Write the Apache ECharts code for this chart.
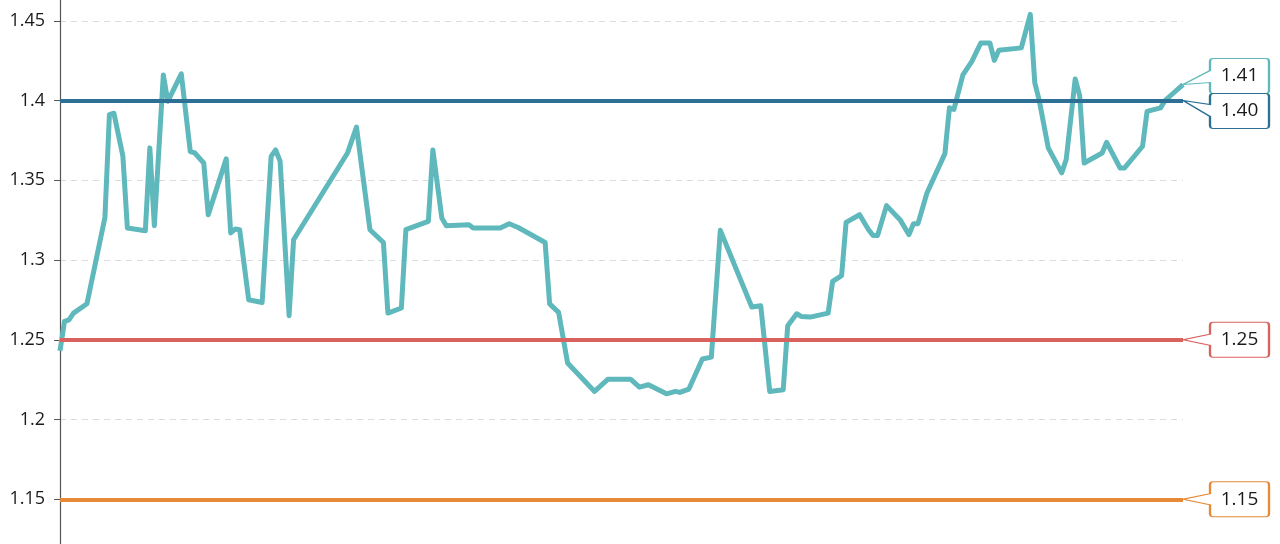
<!DOCTYPE html>
<html>
<head>
<meta charset="utf-8">
<script src="https://cdn.jsdelivr.net/npm/echarts@6/dist/echarts.min.js"></script>
<style>
  html, body { margin: 0; padding: 0; background: #fff; overflow: hidden; }
  /* the picture is a crop of a taller chart: 1.5 sits above the window, 1.1 below */
  #wrap { width: 1280px; height: 544px; overflow: hidden; position: relative; }
  #main { width: 1280px; height: 638px; position: absolute; left: 0; top: -59px; }
</style>
</head>
<body>
<div id="wrap"><div id="main"></div></div>
<script>
// day index of each reading
const days = [
  0, 1, 2, 3, 6, 10, 11, 12, 14, 15, 19, 20, 21, 23, 24, 27, 29, 30, 32, 33,
  37, 38, 39, 40, 42, 45, 47, 48, 49, 51, 52, 64, 66, 69, 72, 73, 76, 77, 82, 83,
  85, 86, 91, 92, 98, 100, 102, 108, 109, 111, 113, 119, 122, 127, 129, 131, 135, 137, 138, 140,
  143, 145, 147, 154, 156, 158, 161, 162, 164, 165, 167, 171, 172, 174, 175, 178, 180, 181, 182, 184,
  187, 189, 190, 191, 193, 197, 198, 199, 201, 203, 205, 207, 208, 209, 214, 216, 217, 218, 220, 223,
  224, 226, 227, 228, 232, 233, 236, 237, 241, 242, 245, 246, 250
];
// ratio readings
const ratio = [
  1.243, 1.2615, 1.2625, 1.2667, 1.2726, 1.3266, 1.3912, 1.392, 1.365, 1.320, 1.3184, 1.3703, 1.3215, 1.416, 1.3995, 1.4167, 1.368, 1.3671, 1.3608, 1.3284,
  1.3634, 1.317, 1.3194, 1.319, 1.2751, 1.2734, 1.365, 1.369, 1.362, 1.2651, 1.3127, 1.3671, 1.3833, 1.319, 1.311, 1.2667, 1.2699, 1.319, 1.3242, 1.369,
  1.3263, 1.3215, 1.3221, 1.320, 1.320, 1.3227, 1.3204, 1.311, 1.2725, 1.2672, 1.2354, 1.2176, 1.2253, 1.2253, 1.2203, 1.2218, 1.2161, 1.2176, 1.217, 1.2191,
  1.2379, 1.2391, 1.3186, 1.2705, 1.2713, 1.2176, 1.2186, 1.2588, 1.2663, 1.2646, 1.2642, 1.2667, 1.2866, 1.2902, 1.3236, 1.3284, 1.319, 1.3153, 1.3153, 1.3341,
  1.3253, 1.3159, 1.3228, 1.3228, 1.342, 1.3667, 1.3954, 1.3944, 1.416, 1.4245, 1.4361, 1.4361, 1.4252, 1.4315, 1.433, 1.454, 1.4112, 1.400, 1.3703, 1.3546,
  1.363, 1.4135, 1.4031, 1.3608, 1.3671, 1.3738, 1.3577, 1.3577, 1.3713, 1.3932, 1.3954, 1.400, 1.41
];
// reference levels
const refLevels = [1.40, 1.25, 1.15];

const lineColor = '#5fb8bb';
const refColors = ['#2e6f96', '#d9625e', '#e68a35'];

// callout bubbles: tip on the left, box to the right
const bubbleMid = 'path://M0,17.5L27,12L27,3Q27,0 30,0L83,0Q86,0 86,3L86,32Q86,35 83,35L30,35Q27,35 27,32L27,23Z';
const bubbleLow = 'path://M0,26L27,24L27,32Q27,35 30,35L83,35Q86,35 86,32L86,3Q86,0 83,0L30,0Q27,0 27,3L27,12Z';
const bubbleHigh = 'path://M0,7L27,11L27,3Q27,0 30,0L83,0Q86,0 86,3L86,32Q86,35 83,35L30,35Q27,35 27,32L27,23Z';

const lastDay = days[days.length - 1];
const lastVal = ratio[ratio.length - 1];

const callout = (value, color, symbol, dy) => ({
  coord: [lastDay, value],
  value: value.toFixed(2),
  symbol: symbol,
  symbolSize: [86, 35],
  symbolOffset: [43, dy],
  itemStyle: { color: '#fff', borderColor: color, borderWidth: 1.5 },
  label: {
    show: true,
    position: 'inside',
    offset: [13.5, 0],
    color: '#1a1a1a',
    fontSize: 19,
    fontFamily: 'Open Sans',
    formatter: '{c}'
  }
});

const points = days.map((d, i) => [d, ratio[i]]);

const option = {
  animation: false,
  grid: { left: 60, right: 97, top: 0, bottom: 0, outerBoundsMode: 'none', containLabel: false },
  xAxis: {
    type: 'value',
    min: 0,
    max: lastDay,
    show: false
  },
  yAxis: {
    type: 'value',
    min: 1.1,
    max: 1.5,
    interval: 0.05,
    axisLine: { show: true, lineStyle: { color: '#555', width: 1.2 } },
    axisTick: { show: true, length: 6, lineStyle: { color: '#555' } },
    axisLabel: { margin: 15, color: '#1a1a1a', fontSize: 18, fontFamily: 'Open Sans' },
    splitLine: { show: true, lineStyle: { color: '#ddd', type: [6, 5] } }
  },
  series: [
    {
      type: 'line',
      data: points,
      showSymbol: false,
      lineStyle: { color: lineColor, width: 5, join: 'round' },
      itemStyle: { color: lineColor },
      z: 3,
      markLine: {
        silent: true,
        symbol: 'none',
        label: { show: false },
        data: refLevels.map((v, i) => ({
          yAxis: v,
          lineStyle: { color: refColors[i], width: 4, type: 'solid' }
        }))
      },
      markPoint: {
        silent: true,
        data: [
          callout(lastVal, lineColor, bubbleLow, -8.5),
          callout(refLevels[0], refColors[0], bubbleHigh, 10.5),
          callout(refLevels[1], refColors[1], bubbleMid, 0),
          callout(refLevels[2], refColors[2], bubbleMid, 0)
        ]
      }
    }
  ]
};

const myChart = echarts.init(document.getElementById('main'));
myChart.setOption(option);
</script>
</body>
</html>
